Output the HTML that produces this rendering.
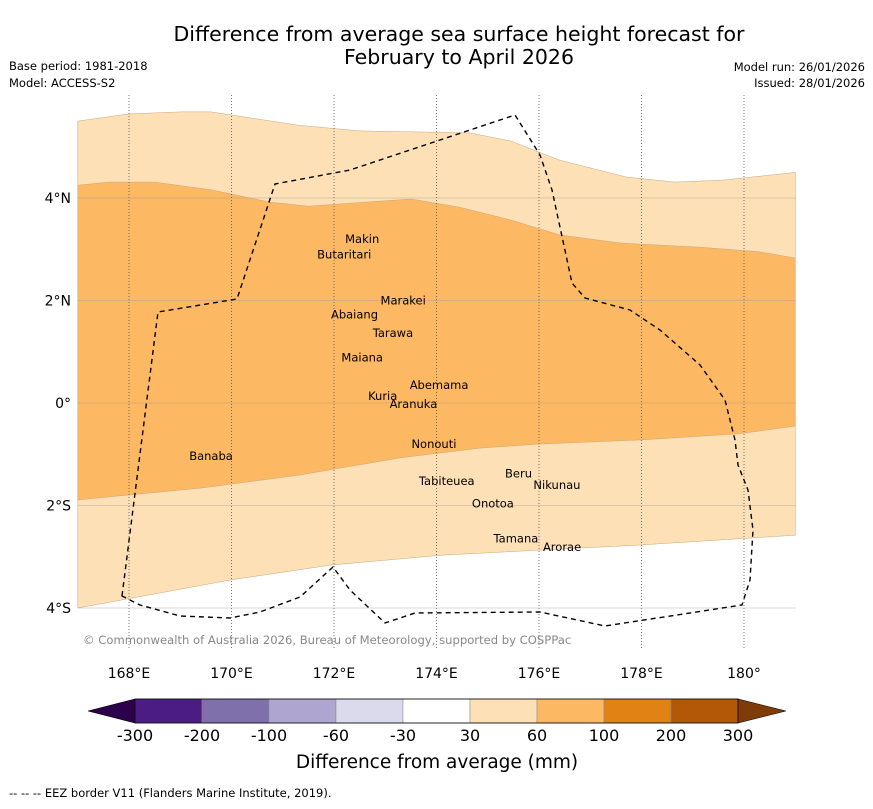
<!DOCTYPE html>
<html><head><meta charset="utf-8">
<style>
body{margin:0;background:#fff;font-family:"Liberation Sans","DejaVu Sans",sans-serif;}
svg text{font-family:"DejaVu Sans","Liberation Sans",sans-serif;}
</style></head>
<body>
<svg id="chart" width="873" height="804" viewBox="0 0 873 804" xmlns="http://www.w3.org/2000/svg">
<text x="459" y="41" font-size="20.5" text-anchor="middle">Difference from average sea surface height forecast for</text>
<text x="459" y="64" font-size="20.5" text-anchor="middle">February to April 2026</text>
<text x="9" y="70" font-size="11.5">Base period: 1981-2018</text>
<text x="9" y="87" font-size="11.5">Model: ACCESS-S2</text>
<text x="865" y="71" font-size="11.5" text-anchor="end">Model run: 26/01/2026</text>
<text x="865" y="87" font-size="11.5" text-anchor="end">Issued: 28/01/2026</text>
<g id="map"></g>
<g id="cbar"></g>
<text x="437" y="768" font-size="18.5" text-anchor="middle">Difference from average (mm)</text>
<text x="9" y="797" font-size="11.5">--  --  -- EEZ border V11 (Flanders Marine Institute, 2019).</text>
</svg>
<script>
const lonTicks=[168,170,172,174,176,178,180];
const lonLabels=["168°E","170°E","172°E","174°E","176°E","178°E","180°"];
const latTicks=[4,2,0,-2,-4];
const latLabels=["4°N","2°N","0°","2°S","4°S"];
const lightTop=[[167,5.5],[168,5.64],[169,5.68],[169.6,5.68],[171.3,5.42],[172.5,5.31],[174.65,5.27],[175.45,5.11],[176.4,4.74],[177.7,4.41],[178.65,4.31],[179.6,4.35],[181,4.5]];
const lightBottom=[[167,-4.0],[170,-3.45],[171.95,-3.16],[174.1,-2.97],[176.02,-2.87],[177.97,-2.77],[181,-2.58]];
const medTop=[[167,4.25],[167.6,4.31],[168.5,4.31],[169.6,4.16],[170.75,3.92],[171.5,3.84],[173.5,3.98],[174.45,3.82],[175.45,3.57],[176.4,3.28],[177.6,3.12],[179.15,3.04],[180.3,2.95],[181,2.83]];
const medBottom=[[167,-1.89],[169.4,-1.66],[171.3,-1.41],[173.3,-1.07],[174.85,-0.88],[176.02,-0.8],[178,-0.72],[179.9,-0.6],[181,-0.45]];
const islandNames=["Makin","Butaritari","Marakei","Abaiang","Tarawa","Maiana","Abemama","Kuria","Aranuka","Nonouti","Banaba","Beru","Nikunau","Tabiteuea","Onotoa","Tamana","Arorae"];
const islandLon=[172.55,172.2,173.35,172.4,173.15,172.55,174.05,172.95,173.55,173.95,169.6,175.6,176.35,174.2,175.1,175.55,176.45];
const islandLat=[3.2,2.9,2.0,1.73,1.37,0.89,0.35,0.14,-0.02,-0.8,-1.03,-1.38,-1.6,-1.52,-1.96,-2.64,-2.81];
const cbarBounds=["-300","-200","-100","-60","-30","30","60","100","200","300"];
const cbarColors=["#4b1c84","#7f6fab","#aea6d0","#dadaec","#ffffff","#fee0b6","#fdb863","#e08214","#b35806"];

const NS="http://www.w3.org/2000/svg";
const X0=77.75,PX=51.25,Y0=403;
const xs=lon=>X0+(lon-167)*PX, ys=lat=>Y0-lat*PX;
const mapL=78,mapR=796,mapT=95,mapB=650;
function mk(tag,attrs,parent){const e=document.createElementNS(NS,tag);for(const k in attrs)e.setAttribute(k,attrs[k]);parent.appendChild(e);return e;}
const map=document.getElementById('map');
const pts=a=>a.map(p=>xs(p[0]).toFixed(1)+","+ys(p[1]).toFixed(1));
let lp=pts(lightTop).concat(pts(lightBottom.slice().reverse()));
let light=mk('polygon',{points:lp.join(' '),fill:'#fee0b6',stroke:'#c9a67a','stroke-width':0.5},map);


let mp=pts(medTop).concat(pts(medBottom.slice().reverse()));
let med=mk('polygon',{points:mp.join(' '),fill:'#fdb863',stroke:'#c9a67a','stroke-width':0.5},map);


lonTicks.forEach((lon,i)=>{
 const g=mk('line',{x1:xs(lon),x2:xs(lon),y1:mapT,y2:mapB,stroke:'#555','stroke-width':0.8,'stroke-dasharray':'1,2'},map);
 
 
 const t=mk('text',{x:xs(lon),y:678,'font-size':14,'text-anchor':'middle'},map);t.textContent=lonLabels[i];
 
 
});
latTicks.forEach((lat,i)=>{
 const g=mk('line',{x1:mapL,x2:mapR,y1:ys(lat),y2:ys(lat),stroke:'#999','stroke-width':0.6,'stroke-opacity':0.7},map);
 
 
 const t=mk('text',{x:71,y:ys(lat)+5,'font-size':14,'text-anchor':'end'},map);t.textContent=latLabels[i];
 
 
});
const eez=mk('path',{d:"M122,596 L158,312 L237,299 L275,184 L350,170 L515,115 L540,155 L552,190 L572,283 L585,298 L630,310 L660,330 L700,365 L725,400 L735,440 L738,465 L748,490 L753,530 L750,580 L742,605 L605,626 L540,612 L415,613 L385,623 L350,590 L333,567 L300,597 L260,612 L230,618 L180,616 L140,605 Z",fill:'none',stroke:'#000','stroke-width':1.4,'stroke-dasharray':'5,4'},map);


islandNames.forEach((n,i)=>{
 const t=mk('text',{x:xs(islandLon[i]),y:ys(islandLat[i])+4,'font-size':11.5,'text-anchor':'middle'},map);t.textContent=n;
 
 
});
const c=mk('text',{x:83,y:644,'font-size':11.6,fill:'#888'},map);c.textContent="© Commonwealth of Australia 2026, Bureau of Meteorology, supported by COSPPac";


const cb=document.getElementById('cbar');
const cL=135,cR=738,cT=699,cB=723,w=(cR-cL)/cbarColors.length;
const t1=mk('polygon',{points:`88,711 ${cL},${cT} ${cL},${cB}`,fill:'#2d004b',stroke:'#000','stroke-width':0.6},cb);


const t2=mk('polygon',{points:`786,711 ${cR},${cT} ${cR},${cB}`,fill:'#7f3b08',stroke:'#000','stroke-width':0.6},cb);


cbarColors.forEach((col,i)=>{
 const r=mk('rect',{x:cL+i*w,y:cT,width:w,height:cB-cT,fill:col,stroke:'#888','stroke-width':0.5},cb);
 
 
});
mk('rect',{x:cL,y:cT,width:cR-cL,height:cB-cT,fill:'none',stroke:'#000','stroke-width':0.8},cb);
cbarBounds.forEach((b,i)=>{
 const t=mk('text',{x:cL+i*w,y:741,'font-size':16,'text-anchor':'middle'},cb);t.textContent=b;
 
 
});
</script>
</body></html>
